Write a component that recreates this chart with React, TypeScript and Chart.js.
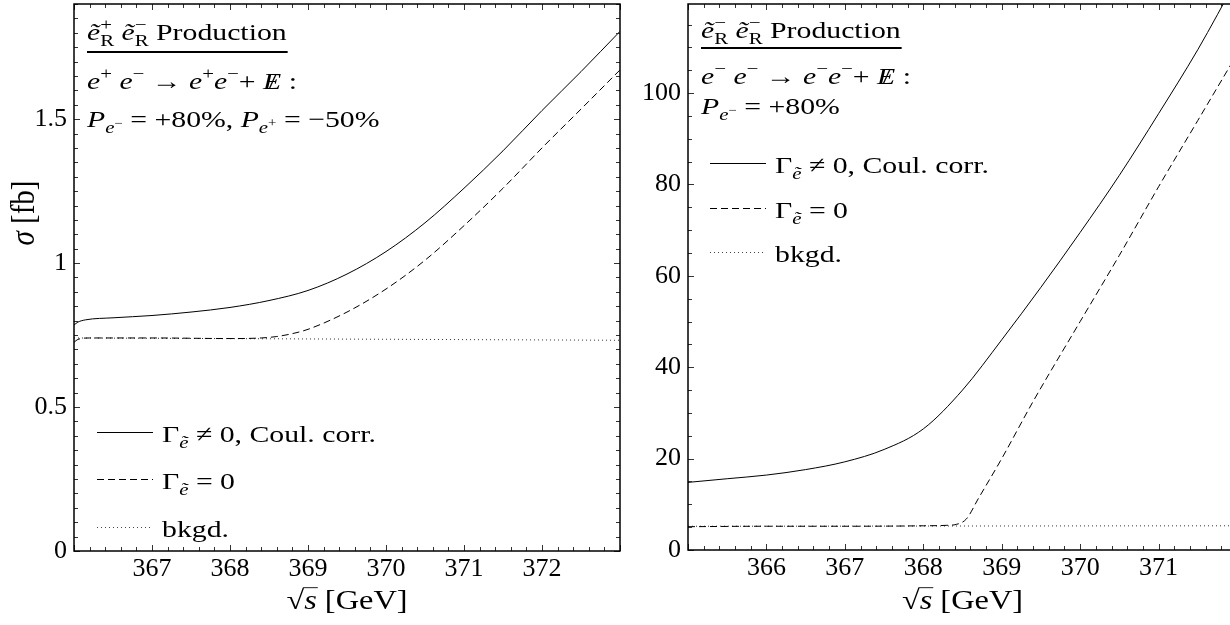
import { useEffect, useRef } from 'react';
import { Chart, registerables } from 'chart.js';
Chart.register(...registerables);

const FONT = '"Liberation Serif", "DejaVu Serif", serif';

// ---------- Left panel: e+ e- -> e+ e- + missing E ----------
const leftSolidX = [366.0, 366.05, 366.15, 366.5, 367, 367.5, 368, 368.5, 369, 369.5, 370, 370.5, 371, 371.5, 372, 372.5, 373];
const leftSolidY = [0.785, 0.795, 0.803, 0.81, 0.818, 0.83, 0.846, 0.87, 0.905, 0.962, 1.04, 1.14, 1.26, 1.39, 1.53, 1.665, 1.805];
const leftDashedX = [366.0, 366.05, 366.2, 367, 368, 368.4, 368.6, 368.8, 369, 369.5, 370, 370.5, 371, 371.5, 372, 372.5, 373];
const leftDashedY = [0.725, 0.735, 0.74, 0.74, 0.738, 0.74, 0.745, 0.755, 0.77, 0.83, 0.91, 1.01, 1.13, 1.26, 1.40, 1.535, 1.671];
const leftBkgdX = [366, 373];
const leftBkgdY = [0.74, 0.732];

// ---------- Right panel: e- e- -> e- e- + missing E ----------
const rightSolidX = [365, 365.5, 366, 366.5, 367, 367.5, 368, 368.5, 369, 369.5, 370, 370.5, 371, 371.5, 372];
const rightSolidY = [14.8, 15.6, 16.4, 17.6, 19.3, 22, 26.5, 35, 46, 57.5, 69.5, 82, 95.5, 109.5, 125];
const rightDashedX = [365, 366, 367, 368, 368.3, 368.42, 368.55, 368.7, 369, 369.4, 370, 370.5, 371, 371.5, 372];
const rightDashedY = [5.1, 5.2, 5.2, 5.3, 5.4, 5.6, 6.8, 11.2, 20, 32.5, 50, 64.5, 79.5, 94, 108.5];
const rightBkgdX = [365, 372];
const rightBkgdY = [5.2, 5.3];

type Run = { t: string; it?: boolean; sc?: number; dy?: number; stack?: boolean; dx?: number };

function drawRunsRaw(ctx: CanvasRenderingContext2D, x: number, y: number, size: number, rs: Run[], draw: boolean): number {
  let cx = x;
  let prevStart = x;
  for (const r of rs) {
    const fs = size * (r.sc ?? 1);
    ctx.font = `${r.it ? 'italic ' : ''}${fs}px ${FONT}`;
    const start = (r.stack ? prevStart : cx) + (r.dx ?? 0) * size;
    if (draw) ctx.fillText(r.t, start, y + (r.dy ?? 0) * size);
    const w = ctx.measureText(r.t).width;
    if (r.stack) cx = Math.max(cx, start + w);
    else { prevStart = start; cx = start + w; }
  }
  return cx - x;
}

// draws runs with a horizontal stretch sx; returns end x
function drawRuns(ctx: CanvasRenderingContext2D, x: number, y: number, size: number, rs: Run[], sx = 1, draw = true): number {
  ctx.save();
  ctx.translate(x, y);
  ctx.scale(sx, 1);
  const w = drawRunsRaw(ctx, 0, 0, size, rs, draw);
  ctx.restore();
  return x + w * sx;
}

const SUP = (t: string): Run => ({ t, sc: 0.7, dy: -0.4 });
const SUB = (t: string, it = false): Run => ({ t, it, sc: 0.7, dy: 0.25 });

const leftTitle: Run[] = [{ t: 'ẽ', it: true }, SUP('+'), { ...SUB('R'), stack: true }, { t: ' ' }, { t: 'ẽ', it: true }, SUP('−'), { ...SUB('R'), stack: true }, { t: ' Production' }];
const rightTitle: Run[] = [{ t: 'ẽ', it: true }, SUP('−'), { ...SUB('R'), stack: true }, { t: ' ' }, { t: 'ẽ', it: true }, SUP('−'), { ...SUB('R'), stack: true }, { t: ' Production' }];
const leftProc: Run[] = [{ t: 'e', it: true }, SUP('+'), { t: ' ' }, { t: 'e', it: true }, SUP('−'), { t: ' → ' }, { t: 'e', it: true }, SUP('+'), { t: 'e', it: true }, SUP('−'), { t: '+ ' }, { t: 'E', it: true }, { t: '/', stack: true, dx: 0.18 }, { t: ' :' }];
const rightProc: Run[] = [{ t: 'e', it: true }, SUP('−'), { t: ' ' }, { t: 'e', it: true }, SUP('−'), { t: ' → ' }, { t: 'e', it: true }, SUP('−'), { t: 'e', it: true }, SUP('−'), { t: '+ ' }, { t: 'E', it: true }, { t: '/', stack: true, dx: 0.18 }, { t: ' :' }];
const leftPol: Run[] = [{ t: 'P', it: true }, SUB('e', true), { t: '−', sc: 0.5, dy: -0.02 }, { t: ' = +80%, ' }, { t: 'P', it: true }, SUB('e', true), { t: '+', sc: 0.5, dy: -0.02 }, { t: ' = −50%' }];
const rightPol: Run[] = [{ t: 'P', it: true }, SUB('e', true), { t: '−', sc: 0.5, dy: -0.02 }, { t: ' = +80%' }];
const legendRuns: Run[][] = [
  [{ t: 'Γ' }, SUB('ẽ', true), { t: ' ≠ 0, Coul. corr.' }],
  [{ t: 'Γ' }, SUB('ẽ', true), { t: ' = 0' }],
  [{ t: 'bkgd.' }],
];
const DASHES = [[], [7, 4], [1, 3]];

const ANN = 24;   // annotation font size
const ANN_SX = 1.24;
const TICK = 26;
const TITLE = 27;
const TITLE_SX = 1.2;

type PanelCfg = {
  xMin: number; xMax: number; yMax: number; yStep: number; yMinor: number;
  padRight: number; xAxisH: number;
  series: { x: number[]; y: number[] }[];
  title: Run[]; proc: Run[]; pol: Run[];
  tx: number; tBase: number; uY: number; pBase: number; polBase: number;
  legX: number; legRows: number[];
  yTitle: boolean;
};

function Panel({ cfg, left, width }: { cfg: PanelCfg; left: number; width: number }) {
  const ref = useRef<HTMLCanvasElement>(null);
  useEffect(() => {
    const deco = {
      id: 'deco',
      afterDraw(chart: any) {
        const ctx: CanvasRenderingContext2D = chart.ctx;
        const a = chart.chartArea;
        const xs = chart.scales.x;
        const ys = chart.scales.y;
        ctx.save();
        // ticks (inward)
        ctx.strokeStyle = '#333';
        ctx.lineWidth = 1;
        const nx = Math.round((cfg.xMax - cfg.xMin) * 5);
        for (let i = 0; i <= nx; i++) {
          const v = cfg.xMin + i / 5;
          const px = Math.round(xs.getPixelForValue(v)) + 0.5;
          const len = i % 5 === 0 ? 6 : 4;
          ctx.beginPath();
          ctx.moveTo(px, a.bottom); ctx.lineTo(px, a.bottom - len);
          ctx.moveTo(px, a.top); ctx.lineTo(px, a.top + len);
          ctx.stroke();
        }
        const per = Math.round(cfg.yStep / cfg.yMinor);
        const ny = Math.floor(cfg.yMax / cfg.yMinor + 1e-6);
        for (let i = 0; i <= ny; i++) {
          const v = i * cfg.yMinor;
          const py = Math.round(ys.getPixelForValue(v)) + 0.5;
          const len = i % per === 0 ? 6 : 4;
          ctx.beginPath();
          ctx.moveTo(a.left, py); ctx.lineTo(a.left + len, py);
          ctx.moveTo(a.right, py); ctx.lineTo(a.right - len, py);
          ctx.stroke();
        }
        // frame
        ctx.strokeStyle = '#000';
        ctx.lineWidth = 1.5;
        ctx.strokeRect(a.left, a.top, a.right - a.left, a.bottom - a.top);

        // annotations
        ctx.fillStyle = '#000';
        ctx.textBaseline = 'alphabetic';
        ctx.textAlign = 'left';
        const tEnd = drawRuns(ctx, cfg.tx, cfg.tBase, ANN, cfg.title, ANN_SX);
        ctx.lineWidth = 1.8;
        ctx.beginPath();
        ctx.moveTo(cfg.tx, cfg.uY); ctx.lineTo(tEnd + 1, cfg.uY);
        ctx.stroke();
        drawRuns(ctx, cfg.tx, cfg.pBase, ANN, cfg.proc, ANN_SX);
        drawRuns(ctx, cfg.tx, cfg.polBase, ANN, cfg.pol, ANN_SX);

        // legend
        cfg.legRows.forEach((ry, i) => {
          ctx.lineWidth = 1;
          ctx.strokeStyle = i === 2 ? '#444' : '#000';
          ctx.setLineDash(DASHES[i]);
          ctx.beginPath();
          ctx.moveTo(cfg.legX, ry + 0.5); ctx.lineTo(cfg.legX + 56, ry + 0.5);
          ctx.stroke();
          ctx.setLineDash([]);
          drawRuns(ctx, cfg.legX + 65, ry + 10, ANN, legendRuns[i], ANN_SX);
        });

        // x title: sqrt(s) [GeV]
        const xr: Run[] = [{ t: '√' }, { t: 's', it: true }, { t: ' [GeV]' }];
        const w = drawRuns(ctx, 0, 0, TITLE, xr, TITLE_SX, false);
        const cx = (a.left + a.right) / 2 - w / 2;
        const base = 609;
        drawRuns(ctx, cx, base, TITLE, xr, TITLE_SX);
        ctx.font = `${TITLE}px ${FONT}`;
        const wr = ctx.measureText('√');
        const asc = wr.actualBoundingBoxAscent;
        ctx.font = `italic ${TITLE}px ${FONT}`;
        const ws = ctx.measureText('s').width;
        ctx.lineWidth = 1.2;
        ctx.beginPath();
        ctx.moveTo(cx + wr.width * TITLE_SX - 1, base - asc + 0.6);
        ctx.lineTo(cx + (wr.width + ws) * TITLE_SX + 1, base - asc + 0.6);
        ctx.stroke();

        if (cfg.yTitle) {
          const yr: Run[] = [{ t: 'σ', it: true }, { t: ' [fb]' }];
          const wy = drawRuns(ctx, 0, 0, 29, yr, 1, false);
          ctx.save();
          ctx.translate(34, 213);
          ctx.rotate(-Math.PI / 2);
          ctx.scale(1, 1.15);
          drawRuns(ctx, -wy / 2, 0, 29, yr, 1);
          ctx.restore();
        }
        ctx.restore();
      },
    };

    const styles = [
      { borderDash: [] as number[], borderColor: '#000' },
      { borderDash: [7, 4], borderColor: '#000' },
      { borderDash: [1, 3], borderColor: '#333' },
    ];

    const chart = new Chart(ref.current!, {
      type: 'line',
      data: {
        datasets: cfg.series.map((s, i) => ({
          data: s.x.map((x, j) => ({ x, y: s.y[j] })),
          borderColor: styles[i].borderColor,
          borderDash: styles[i].borderDash,
          borderWidth: 1,
          pointRadius: 0,
          cubicInterpolationMode: 'monotone' as const,
          fill: false,
        })),
      },
      options: {
        animation: false,
        responsive: false,
        devicePixelRatio: 1,
        events: [],
        layout: { padding: { left: 0, right: cfg.padRight, top: 4, bottom: 0 } },
        plugins: { legend: { display: false }, tooltip: { enabled: false } },
        scales: {
          x: {
            type: 'linear',
            min: cfg.xMin,
            max: cfg.xMax,
            grid: { display: false, drawTicks: false },
            border: { display: false },
            ticks: {
              stepSize: 1,
              autoSkip: false,
              maxRotation: 0,
              padding: 3,
              color: '#000',
              font: { family: FONT, size: TICK },
              callback: (v: any) => {
                const n = Number(v);
                if (Math.abs(n - Math.round(n)) > 1e-6) return '';
                if (n <= cfg.xMin || n >= cfg.xMax) return '';
                return String(Math.round(n));
              },
            },
            afterFit: (s: any) => {
              s.height = cfg.xAxisH;
              s.paddingLeft = 0;
              s.paddingRight = 0;
            },
          },
          y: {
            type: 'linear',
            min: 0,
            max: cfg.yMax,
            grid: { display: false, drawTicks: false },
            border: { display: false },
            ticks: {
              stepSize: cfg.yStep,
              autoSkip: false,
              padding: 7,
              color: '#000',
              font: { family: FONT, size: TICK },
              callback: (v: any) => {
                const n = Number(v);
                const k = n / cfg.yStep;
                if (Math.abs(k - Math.round(k)) > 1e-6) return '';
                return String(Math.round(n * 100) / 100);
              },
            },
            afterFit: (s: any) => {
              s.width = 74;
              s.paddingTop = 0;
              s.paddingBottom = 0;
            },
          },
        },
      },
      plugins: [deco],
    } as any);
    return () => chart.destroy();
  }, []);
  return (
    <canvas
      ref={ref}
      width={width}
      height={625}
      style={{ position: 'absolute', left, top: 0, width, height: 625 }}
    />
  );
}

const leftCfg: PanelCfg = {
  xMin: 366, xMax: 373, yMax: 1.9, yStep: 0.5, yMinor: 0.05,
  padRight: 5, xAxisH: 74,
  series: [
    { x: leftSolidX, y: leftSolidY },
    { x: leftDashedX, y: leftDashedY },
    { x: leftBkgdX, y: leftBkgdY },
  ],
  title: leftTitle, proc: leftProc, pol: leftPol,
  tx: 87, tBase: 40, uY: 52, pBase: 89, polBase: 127,
  legX: 97, legRows: [432, 479, 527],
  yTitle: true,
};

const rightCfg: PanelCfg = {
  xMin: 365, xMax: 372, yMax: 119.5, yStep: 20, yMinor: 5,
  padRight: 17, xAxisH: 75,
  series: [
    { x: rightSolidX, y: rightSolidY },
    { x: rightDashedX, y: rightDashedY },
    { x: rightBkgdX, y: rightBkgdY },
  ],
  title: rightTitle, proc: rightProc, pol: rightPol,
  tx: 87, tBase: 38, uY: 48, pBase: 84, polBase: 114,
  legX: 96, legRows: [163, 208, 252],
  yTitle: false,
};

export default function App() {
  return (
    <div style={{ position: 'fixed', left: 0, top: 0, width: 1230, height: 625, overflow: 'hidden', background: '#fff' }}>
      <Panel cfg={leftCfg} left={0} width={625} />
      <Panel cfg={rightCfg} left={614} width={640} />
    </div>
  );
}
